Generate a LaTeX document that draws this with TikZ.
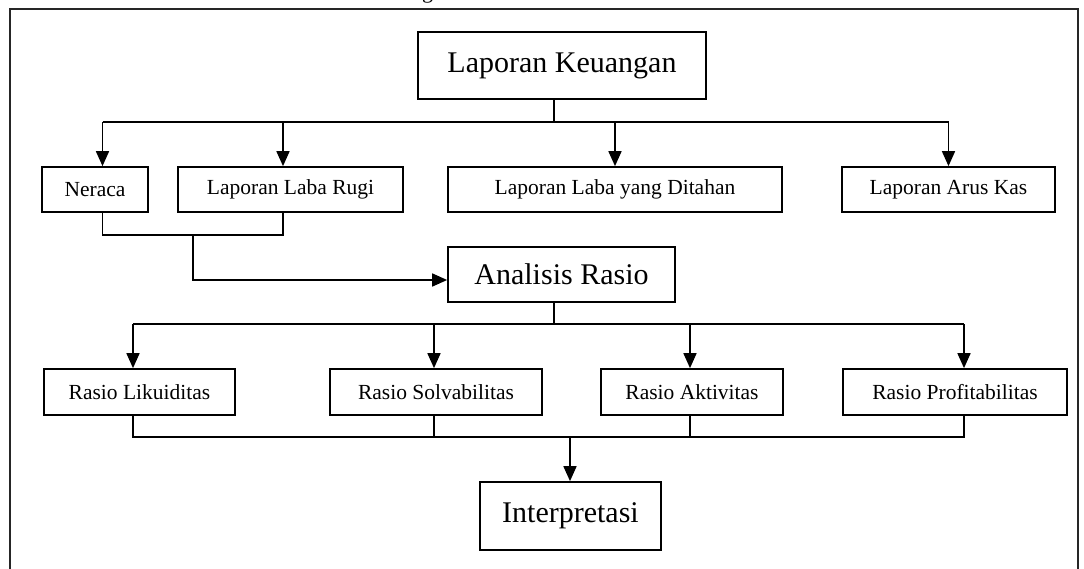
\documentclass[tikz,border=0pt]{standalone}
\usepackage{fontspec}
\setmainfont{Liberation Serif}
\usetikzlibrary{arrows.meta,calc}
\begin{document}
\begin{tikzpicture}[x=1pt,y=-1pt,
  box/.style={draw=black,line width=1.7pt,inner sep=0pt,align=center},
  bigbox/.style={box,font=\fontsize{30}{34}\selectfont},
  smallbox/.style={box,font=\fontsize{21.5}{25}\selectfont,minimum height=45pt},
  conn/.style={draw=black,line width=1.7pt},
  arr/.style={conn,-{Triangle[length=15pt,width=13pt]}}]
\useasboundingbox (0,0) rectangle (1084,569);
% frame (bottom edge lies below the page)
\draw[line width=2.4pt,black!85] (10,580) -- (10,9) -- (1078,9) -- (1078,580);
% clipped caption fragment
\node[anchor=base,inner sep=0pt,font=\fontsize{22}{26}\selectfont] (cap) at (427.5,-1.5) {g};
% nodes
\node[bigbox,minimum width=288pt,minimum height=67pt] (LK) at (562,65.5) {Laporan Keuangan};
\node[smallbox,minimum width=106pt] (N) at (95,189.5) {Neraca};
\node[smallbox,minimum width=225pt] (R) at (290.5,189.5) {Laporan Laba Rugi};
\node[smallbox,minimum width=334pt] (D) at (615,189.5) {Laporan Laba yang Ditahan};
\node[smallbox,minimum width=213pt] (K) at (948.5,189.5) {Laporan Arus Kas};
\node[bigbox,minimum width=227pt,minimum height=55pt] (AR) at (561.5,274.5) {Analisis Rasio};
\node[smallbox,minimum width=191pt,minimum height=46pt] (Li) at (139.5,392) {Rasio Likuiditas};
\node[smallbox,minimum width=212pt,minimum height=46pt] (So) at (436,392) {Rasio Solvabilitas};
\node[smallbox,minimum width=182pt,minimum height=46pt] (Ak) at (692,392) {Rasio Aktivitas};
\node[smallbox,minimum width=224pt,minimum height=46pt] (Pr) at (955,392) {Rasio Profitabilitas};
\node[bigbox,minimum width=181pt,minimum height=68pt] (I) at (570.5,516) {Interpretasi};
% top distribution
\coordinate (bus1) at (554,122);
\coordinate (tN) at ([xshift=7.5pt]N.north);
\coordinate (tR) at ([xshift=-7.5pt]R.north);
\coordinate (tD) at (D.north);
\coordinate (tK) at (K.north);
\draw[conn] ([xshift=-8pt]LK.south) -- (bus1);
\draw[conn] (tN |- bus1) -- (tK |- bus1);
\foreach \t in {tN,tR,tD,tK} \draw[arr] (\t |- bus1) -- (\t);
% Neraca + Laba Rugi -> Analisis Rasio
\coordinate (j1) at (193,235);
\draw[conn] ([xshift=7.5pt]N.south) |- ([xshift=-7.5pt]R.south |- j1) -- ([xshift=-7.5pt]R.south);
\draw[arr] (j1) |- ([yshift=-5.5pt]AR.west);
% ratio distribution
\coordinate (bus2) at (554,324);
\coordinate (tLi) at ([xshift=-6.5pt]Li.north);
\coordinate (tSo) at ([xshift=-2pt]So.north);
\coordinate (tAk) at ([xshift=-2pt]Ak.north);
\coordinate (tPr) at ([xshift=9pt]Pr.north);
\draw[conn] ([xshift=-7.5pt]AR.south) -- (bus2);
\draw[conn] (tLi |- bus2) -- (tPr |- bus2);
\foreach \t in {tLi,tSo,tAk,tPr} \draw[arr] (\t |- bus2) -- (\t);
% collect to Interpretasi
\coordinate (bus3) at (570,437);
\draw[conn] ([xshift=-6.5pt]Li.south) |- ([xshift=9pt]Pr.south |- bus3) -- ([xshift=9pt]Pr.south);
\draw[conn] ([xshift=-2pt]So.south) -- ([xshift=-2pt]So.south |- bus3);
\draw[conn] ([xshift=-2pt]Ak.south) -- ([xshift=-2pt]Ak.south |- bus3);
\draw[arr] (bus3) -- (I.north -| bus3);
\end{tikzpicture}
\end{document}
